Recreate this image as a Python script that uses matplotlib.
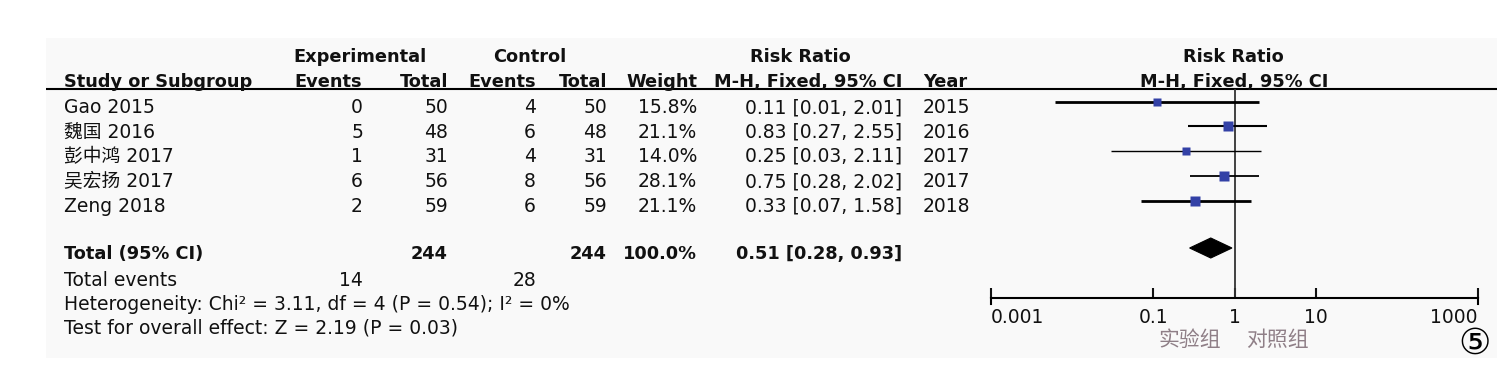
import numpy as np
import matplotlib
matplotlib.use("Agg")
from matplotlib import pyplot as plt
from matplotlib.patches import Rectangle, Polygon

plt.rcParams['font.family'] = ['DejaVu Sans', 'Noto Sans CJK SC']

# study data
studies = ['Gao 2015', '魏国 2016', '彭中鸿 2017', '吴宏扬 2017', 'Zeng 2018']
exp_events = [0, 5, 1, 6, 2]
exp_total = [50, 48, 31, 56, 59]
ctl_events = [4, 6, 4, 8, 6]
ctl_total = [50, 48, 31, 56, 59]
weights = [15.8, 21.1, 14.0, 28.1, 21.1]
rr = [0.11, 0.83, 0.25, 0.75, 0.33]
ci_low = [0.0061, 0.27, 0.03, 0.28, 0.07]
ci_high = [2.01, 2.55, 2.11, 2.02, 1.58]
years = [2015, 2016, 2017, 2017, 2018]

total_weight = 100.0
pooled_rr = 0.51
pooled_low = 0.28
pooled_high = 0.93
chi2, df, p_het, i2 = 3.11, 4, 0.54, 0
z_val, p_z = 2.19, 0.03

xticks = [0.001, 0.1, 1, 10, 1000]
xtick_labels = ['0.001', '0.1', '1', '10', '1000']

# layout (pixels)
W, H = 1504, 373
row_base = [113, 137.5, 162, 187, 212]
line_w = [2.0, 1.5, 1.0, 1.3, 2.0]
FS = 13.5
FS_B = 12.8
BLUE = '#3341a6'

fig = plt.figure(figsize=(W / 100, H / 100), dpi=100)
ax = fig.add_axes([0, 0, 1, 1])
ax.set_xlim(0, W)
ax.set_ylim(H, 0)
ax.axis('off')

ax.add_patch(Rectangle((46, 38), 1451, 320, fc='#f9f9f9', ec='none'))


def txt(x, y, s, ha='left', bold=False, **kw):
    ax.text(x, y, s, ha=ha, va='baseline', fontsize=FS_B if bold else FS,
            fontweight='bold' if bold else 'normal', color='#111111', **kw)


# header
txt(293, 62, 'Experimental', bold=True)
txt(493, 62, 'Control', bold=True)
txt(800, 62, 'Risk Ratio', ha='center', bold=True)
txt(1233, 62, 'Risk Ratio', ha='center', bold=True)
txt(64, 87, 'Study or Subgroup', bold=True)
txt(362, 87, 'Events', ha='right', bold=True)
txt(448, 87, 'Total', ha='right', bold=True)
txt(536, 87, 'Events', ha='right', bold=True)
txt(607, 87, 'Total', ha='right', bold=True)
txt(697, 87, 'Weight', ha='right', bold=True)
txt(902, 87, 'M-H, Fixed, 95% CI', ha='right', bold=True)
txt(923, 87, 'Year', bold=True)
txt(1234, 87, 'M-H, Fixed, 95% CI', ha='center', bold=True)
ax.plot([46, 1497], [89, 89], color='black', lw=1.5, solid_capstyle='butt')

# study rows
for i, yb in enumerate(row_base):
    txt(64, yb, studies[i])
    txt(363, yb, str(exp_events[i]), ha='right')
    txt(448, yb, str(exp_total[i]), ha='right')
    txt(536, yb, str(ctl_events[i]), ha='right')
    txt(607, yb, str(ctl_total[i]), ha='right')
    txt(697, yb, '%.1f%%' % weights[i], ha='right')
    txt(902, yb, '%.2f [%.2f, %.2f]' % (rr[i], ci_low[i], ci_high[i]), ha='right')
    txt(923, yb, str(years[i]))

# totals
txt(64, 259, 'Total (95% CI)', bold=True)
txt(448, 259, str(sum(exp_total)), ha='right', bold=True)
txt(607, 259, str(sum(ctl_total)), ha='right', bold=True)
txt(697, 259, '%.1f%%' % total_weight, ha='right', bold=True)
txt(902, 259, '%.2f [%.2f, %.2f]' % (pooled_rr, pooled_low, pooled_high),
    ha='right', bold=True)
txt(64, 285.5, 'Total events')
txt(363, 285.5, str(sum(exp_events)), ha='right')
txt(536, 285.5, str(sum(ctl_events)), ha='right')
txt(64, 310, 'Heterogeneity: Chi\u00b2 = %.2f, df = %d (P = %.2f); I\u00b2 = %d%%'
    % (chi2, df, p_het, i2))
txt(64, 334, 'Test for overall effect: Z = %.2f (P = %.2f)' % (z_val, p_z))

# forest panel
ax2 = fig.add_axes([991 / W, 1 - 298 / H, 487 / W, 209 / H])
ax2.set_xscale('log')
ax2.set_xlim(1e-3, 1e3)
ax2.set_ylim(298, 89)
ax2.patch.set_visible(False)
for s in ['top', 'left', 'right']:
    ax2.spines[s].set_visible(False)
ax2.spines['bottom'].set_linewidth(1.5)
ax2.set_yticks([])
ax2.set_xticks(xticks)
ax2.set_xticklabels(xtick_labels)
ax2.minorticks_off()
ax2.tick_params(axis='x', direction='in', length=7, width=1.5, pad=7,
                labelsize=FS, colors='#111111')
labs = ax2.get_xticklabels()
labs[0].set_ha('left')
labs[-1].set_ha('right')
for xe in (xticks[0], xticks[-1]):
    ax2.plot([xe, xe], [298, 304], color='black', lw=1.5, clip_on=False)

ax2.axvline(1, color='#333333', lw=1.3)

for i, yb in enumerate(row_base):
    ym = yb - 11.5
    ax2.plot([ci_low[i], ci_high[i]], [ym, ym], color='black', lw=line_w[i],
             solid_capstyle='butt')
    side = 2.0 * np.sqrt(weights[i])
    ax2.plot([rr[i]], [ym], marker='s', ms=side * 0.72, color=BLUE, mec='none')

yd = 248
ax2.add_patch(Polygon([(pooled_low, yd), (pooled_rr, yd - 10),
                       (pooled_high, yd), (pooled_rr, yd + 10)],
                      closed=True, fc='black', ec='black', lw=0.8))

ax.text(1190, 340, '实验组', ha='center', va='center', fontsize=15,
        color='#8f7f87')
ax.text(1277, 340, '对照组', ha='center', va='center', fontsize=15,
        color='#8f7f87')
ax.text(1475, 344, '\u2464', ha='center', va='center', fontsize=26,
        color='black')

fig.savefig('out.png', dpi=100)
